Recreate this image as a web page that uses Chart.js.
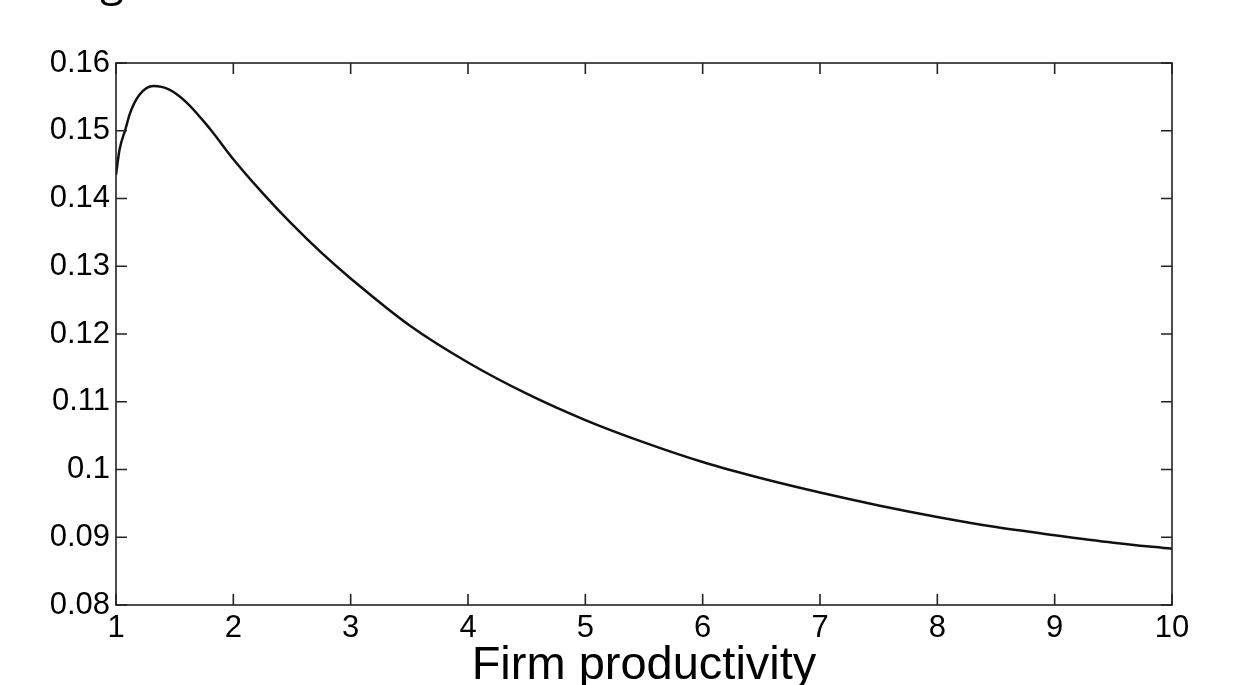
<!DOCTYPE html>
<html>
<head>
<meta charset="utf-8">
<script src="https://cdn.jsdelivr.net/npm/chart.js@4.4.1/dist/chart.umd.min.js"></script>
<style>
  html, body { margin:0; padding:0; background:#fff; overflow:hidden; }
  #wrap { position:relative; width:1242px; height:685px; overflow:hidden; }
  #frag { position:absolute; left:100px; top:-44px; font:44px "Open Sans", sans-serif; line-height:1; color:#000; }
  canvas { display:block; }
</style>
</head>
<body>
<div id="wrap">
  <div id="frag">g</div>
  <canvas id="chart" width="1242" height="685"></canvas>
</div>
<script>
// ── Data ───────────────────────────────────────────
const productivity = [1, 1.03, 1.08, 1.12, 1.2, 1.32, 1.45, 1.6, 1.8, 2, 2.25, 2.5, 2.75, 3,
                      3.5, 4, 4.5, 5, 5.5, 6, 6.5, 7, 7.5, 8, 8.5, 9, 9.5, 10];
const share = [0.1435, 0.1472, 0.1502, 0.1526, 0.1553, 0.1566, 0.1561, 0.1542, 0.1503, 0.1458,
               0.1408, 0.1362, 0.1320, 0.1282, 0.1213, 0.1158, 0.1112, 0.1073, 0.1040, 0.1011,
               0.0987, 0.0966, 0.0947, 0.0930, 0.0915, 0.0903, 0.0892, 0.0883];
const xTicks = [1, 2, 3, 4, 5, 6, 7, 8, 9, 10];
const yTicks = [0.08, 0.09, 0.1, 0.11, 0.12, 0.13, 0.14, 0.15, 0.16];
const xTitle = "Firm productivity";

const TICK_FONT = { family: "'Liberation Sans', Arial, sans-serif", size: 31 };
const TICK_LEN = 11;

// ── Box frame with inward ticks (MATLAB style) ─────
const frameTicks = {
  id: "frameTicks",
  afterDatasetsDraw(chart) {
    const { ctx, chartArea: a, scales: { x, y } } = chart;
    ctx.save();
    ctx.strokeStyle = "#222";
    ctx.lineWidth = 1.6;
    ctx.strokeRect(a.left, a.top, a.right - a.left, a.bottom - a.top);
    ctx.beginPath();
    xTicks.forEach(v => {
      const px = x.getPixelForValue(v);
      ctx.moveTo(px, a.bottom); ctx.lineTo(px, a.bottom - TICK_LEN);
      ctx.moveTo(px, a.top);    ctx.lineTo(px, a.top + TICK_LEN);
    });
    yTicks.forEach(v => {
      const py = y.getPixelForValue(v);
      ctx.moveTo(a.left, py);  ctx.lineTo(a.left + TICK_LEN, py);
      ctx.moveTo(a.right, py); ctx.lineTo(a.right - TICK_LEN, py);
    });
    ctx.stroke();
    ctx.restore();
  }
};

new Chart(document.getElementById("chart"), {
  type: "line",
  data: {
    datasets: [{
      data: productivity.map((p, i) => ({ x: p, y: share[i] })),
      borderColor: "#111",
      borderWidth: 2.5,
      pointRadius: 0,
      fill: false,
      cubicInterpolationMode: "monotone",
    }],
  },
  options: {
    responsive: false,
    animation: false,
    events: [],
    layout: { padding: { left: 0, top: 63, right: 70, bottom: 0 } },
    plugins: { legend: { display: false }, tooltip: { enabled: false } },
    scales: {
      x: {
        type: "linear",
        min: 1, max: 10,
        afterBuildTicks: s => { s.ticks = xTicks.map(v => ({ value: v })); },
        afterFit: s => { s.height = 80; },
        grid: { display: false, drawTicks: false },
        border: { display: false },
        ticks: { autoSkip: false, maxRotation: 0, padding: 5, color: "#000", font: TICK_FONT },
        title: {
          display: true,
          text: xTitle,
          color: "#000",
          padding: 0,
          font: { family: "'Liberation Sans', Arial, sans-serif", size: 47, lineHeight: 0.8 },
        },
      },
      y: {
        min: 0.08, max: 0.16,
        afterBuildTicks: s => { s.ticks = yTicks.map(v => ({ value: v })); },
        afterFit: s => { s.width = 116; },
        grid: { display: false, drawTicks: false },
        border: { display: false },
        ticks: {
          padding: 6, color: "#000", font: TICK_FONT,
          callback: v => String(+v.toFixed(2)),
        },
      },
    },
  },
  plugins: [frameTicks],
});
</script>
</body>
</html>
